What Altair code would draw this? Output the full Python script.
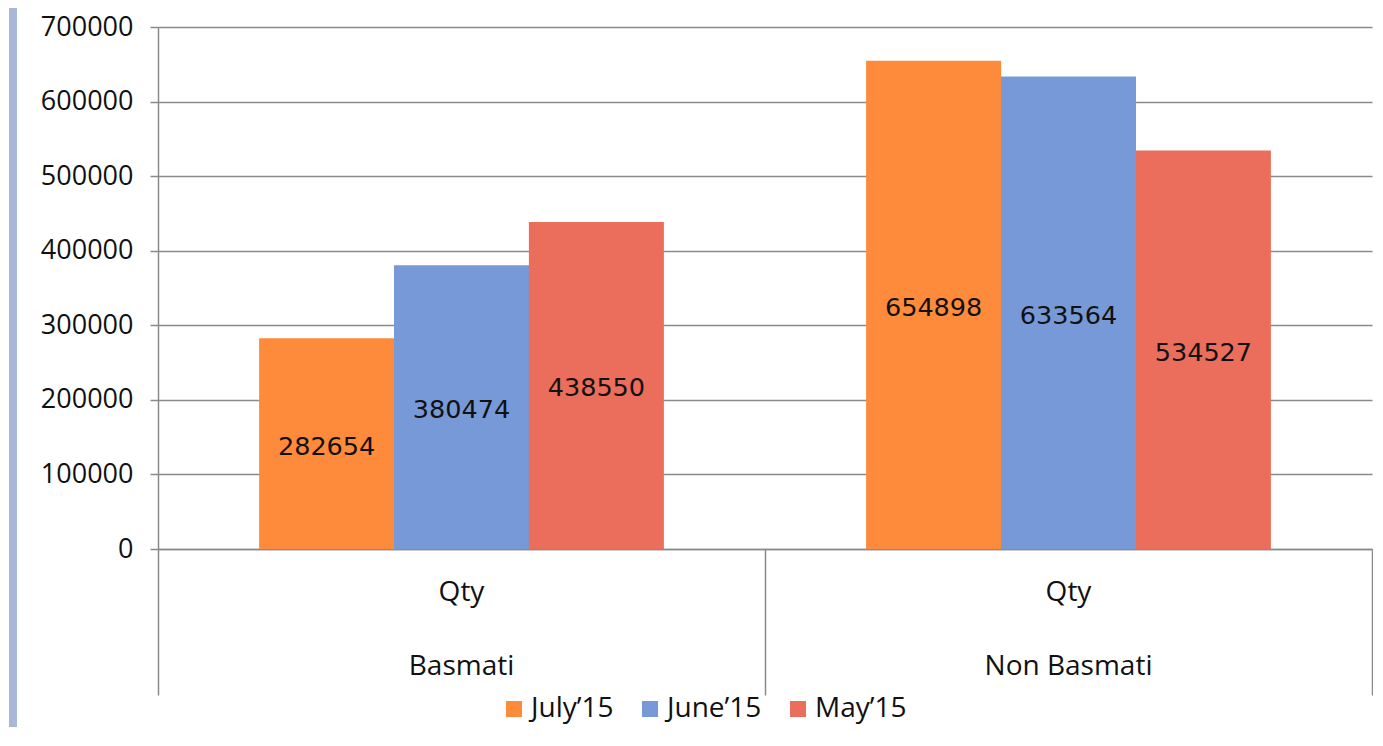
import altair as alt
import pandas as pd

groups = ["Basmati", "Non Basmati"]
series = ["July’15", "June’15", "May’15"]
basmati = [282654, 380474, 438550]
non_basmati = [654898, 633564, 534527]
colors = ["#FE8A3B", "#7799D8", "#EB6D5B"]
y_ticks = [0, 100000, 200000, 300000, 400000, 500000, 600000, 700000]

rows = []
for g, vals in zip(groups, [basmati, non_basmati]):
    for s, v in zip(series, vals):
        rows.append({"group": g, "series": s, "value": v})
df = pd.DataFrame(rows)
cat_df = pd.DataFrame({"group": groups, "sub": ["Qty"] * len(groups)})

GRID = "#8a8a8a"
FONT = "Open Sans"

x_enc = alt.X("group:N", sort=groups,
              scale=alt.Scale(paddingInner=0, paddingOuter=0),
              axis=alt.Axis(title=None, labels=False, tickBand="extent",
                            tickSize=146, tickColor=GRID, tickWidth=1.5,
                            domainColor=GRID, domainWidth=1.5))
xo_enc = alt.XOffset("series:N", sort=series,
                     scale=alt.Scale(paddingInner=0, paddingOuter=0.75))
y_scale = alt.Scale(domain=[0, 700000], nice=False)

bars = alt.Chart(df).mark_bar(size=135).encode(
    x=x_enc,
    xOffset=xo_enc,
    y=alt.Y("value:Q", scale=y_scale,
            axis=alt.Axis(title=None, values=y_ticks, format="d",
                          gridColor=GRID, gridWidth=1.5,
                          domainColor=GRID, domainWidth=1.5,
                          tickColor=GRID, tickWidth=1.5, tickSize=8,
                          labelPadding=17, labelFont=FONT, labelFontSize=27,
                          labelColor="#111111")),
    color=alt.Color("series:N", sort=series,
                    scale=alt.Scale(domain=series, range=colors),
                    legend=alt.Legend(title=None, orient="none",
                                      direction="horizontal",
                                      legendX=342, legendY=668,
                                      symbolType="square", symbolSize=256,
                                      symbolStrokeWidth=0, symbolOpacity=1,
                                      labelFont=FONT, labelFontSize=28,
                                      labelColor="#111111", labelOffset=3,
                                      columnPadding=22, padding=0)),
)

labels = alt.Chart(df).mark_text(font="DejaVu Sans", fontSize=25.5, dy=3,
                                 color="#111111").transform_calculate(
    mid="datum.value / 2"
).encode(
    x=alt.X("group:N", sort=groups),
    xOffset=alt.XOffset("series:N", sort=series),
    y=alt.Y("mid:Q", scale=y_scale),
    text=alt.Text("value:Q", format="d"),
)

sub_text = alt.Chart(cat_df).mark_text(font=FONT, fontSize=28,
                                       color="#111111").encode(
    x=alt.X("group:N", sort=groups),
    y=alt.value(566),
    text="sub:N",
)
grp_text = alt.Chart(cat_df).mark_text(font=FONT, fontSize=28,
                                       color="#111111").encode(
    x=alt.X("group:N", sort=groups),
    y=alt.value(640),
    text="group:N",
)

stripe = alt.Chart(alt.Data(values=[{}])).mark_rect(color="#AAB7D7").encode(
    x=alt.value(-149), x2=alt.value(-141),
    y=alt.value(-19), y2=alt.value(700),
)

chart = alt.layer(stripe, bars, labels, sub_text, grp_text).properties(
    width=1214, height=522,
    padding={"left": 1, "top": 0, "right": 0, "bottom": 0},
).configure_view(stroke=None)

chart.save("out.html", embed_options={"renderer": "svg", "actions": False})
